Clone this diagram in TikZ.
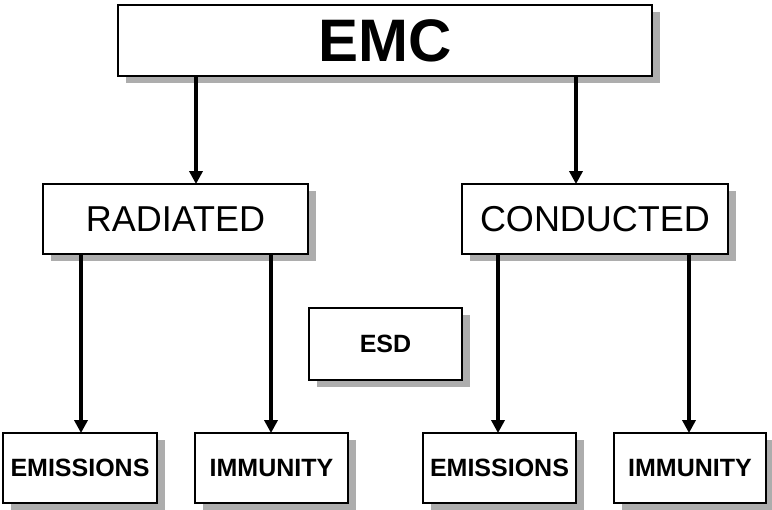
\documentclass[tikz,border=0pt]{standalone}
\usepackage{fontspec}
\setmainfont{Liberation Sans}
\usetikzlibrary{arrows.meta,shadows}
\begin{document}
\begin{tikzpicture}[x=1pt,y=-1pt,
  box/.style={draw=black, line width=1.8pt, fill=white, inner sep=0pt,
    drop shadow={shadow xshift=8pt, shadow yshift=-7pt, fill=black!32, opacity=1}},
  big/.style={font=\fontsize{60}{66}\selectfont\bfseries},
  mid/.style={font=\fontsize{36}{40}\selectfont},
  small/.style={font=\fontsize{25}{28}\selectfont\bfseries},
  arr/.style={line width=3.5pt, -{Triangle[length=13pt,width=13pt]}, shorten >=-1pt}]
\useasboundingbox (0,0) rectangle (772,510);

% top level
\node[box, big, minimum width=534pt, minimum height=71pt] (emc) at (385,40.5) {EMC};

% second level
\node[box, mid, minimum width=265pt, minimum height=70pt] (rad) at (175.5,219) {RADIATED};
\node[box, mid, minimum width=266pt, minimum height=70pt] (con) at (595,219) {CONDUCTED};

% stand-alone box
\node[box, small, minimum width=153pt, minimum height=72pt] (esd) at (385.5,344) {ESD};

% third level
\node[box, small, minimum width=154pt, minimum height=70pt] (remi) at (80,468) {EMISSIONS};
\node[box, small, minimum width=153pt, minimum height=70pt] (rimm) at (271.5,468) {IMMUNITY};
\node[box, small, minimum width=153pt, minimum height=70pt] (cemi) at (499.5,468) {EMISSIONS};
\node[box, small, minimum width=152pt, minimum height=70pt] (cimm) at (690,468) {IMMUNITY};

% connectors
\draw[arr] (emc.south -| 196,0) -- (rad.north -| 196,0);
\draw[arr] (emc.south -| 576,0) -- (con.north -| 576,0);
\draw[arr] (rad.south -| 81,0) -- (remi.north -| 81,0);
\draw[arr] (rad.south -| 271,0) -- (rimm.north -| 271,0);
\draw[arr] (con.south -| 498,0) -- (cemi.north -| 498,0);
\draw[arr] (con.south -| 689,0) -- (cimm.north -| 689,0);
\end{tikzpicture}
\end{document}
